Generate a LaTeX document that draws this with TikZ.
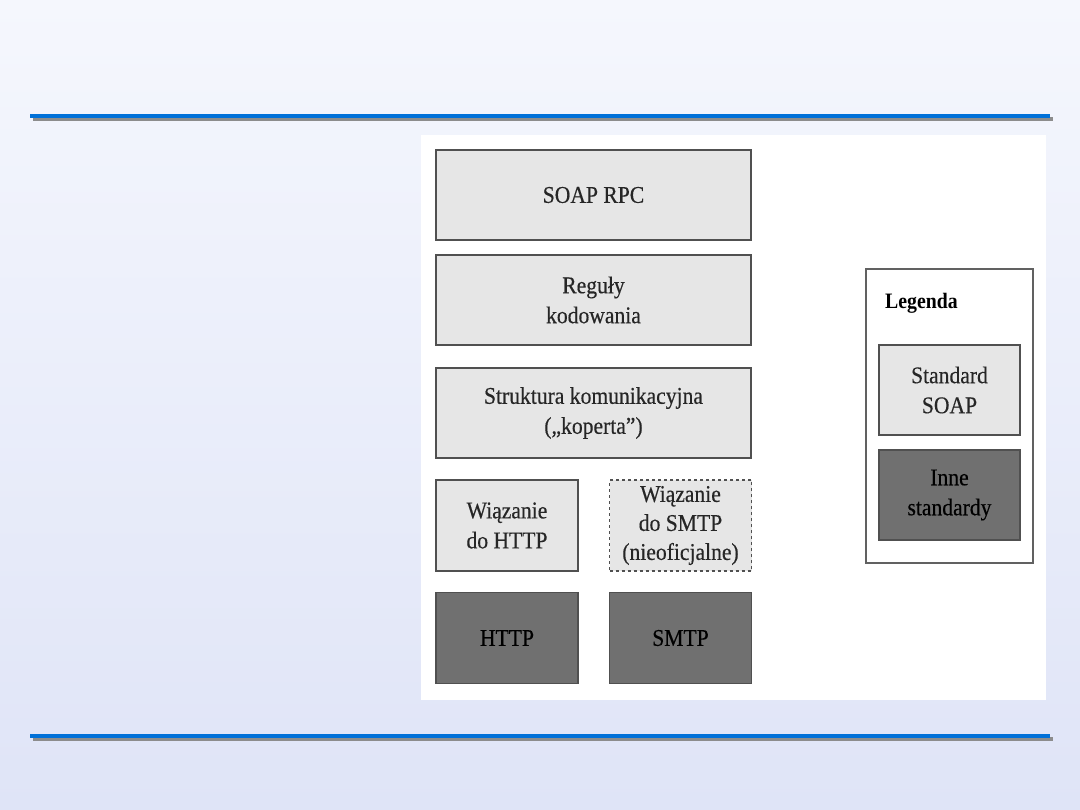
\documentclass[tikz,border=0pt]{standalone}
\usepackage{fontspec}
\newfontfamily\cond[FakeStretch=0.9,FakeBold=0.4]{Liberation Serif}
\newfontfamily\condb[FakeStretch=0.9]{Liberation Serif}
\definecolor{bgtop}{HTML}{F5F7FD}
\definecolor{bgbot}{HTML}{DFE4F7}
\definecolor{rule}{HTML}{0070D8}
\definecolor{ruleshadow}{HTML}{8C8C8C}
\definecolor{lightfill}{HTML}{E6E6E6}
\definecolor{darkfill}{HTML}{707070}
\definecolor{edge}{HTML}{505050}
\tikzset{
  layer/.style={draw=edge, line width=1.8pt, inner sep=2pt, align=center,
    font=\cond\fontsize{24}{30}\selectfont, text=black!85},
  soapbox/.style={layer, fill=lightfill},
  otherbox/.style={layer, fill=darkfill, text=black},
  wide/.style={minimum width=315pt, minimum height=90pt},
  narrow/.style={minimum width=142pt, minimum height=91pt},
  legbox/.style={minimum width=141pt, minimum height=90pt},
}
\begin{document}
\begin{tikzpicture}[x=1pt,y=-1pt]
\useasboundingbox (0,0) rectangle (1080,810);
\shade[top color=bgtop, bottom color=bgbot] (0,0) rectangle (1080,810);
% rules
\fill[ruleshadow] (33,117) rectangle (1053,121);
\fill[rule] (30,114) rectangle (1050,118);
\fill[ruleshadow] (33,737) rectangle (1053,741);
\fill[rule] (30,734) rectangle (1050,738);
% image area
\fill[white] (421,135) rectangle (1046,700);
% stack
\node[soapbox, wide] (rpc) at (593.5,195) {SOAP RPC};
\node[soapbox, wide] (enc) at (593.5,300) {Reguły\\kodowania};
\node[soapbox, wide] (env) at (593.5,413) {Struktura komunikacyjna\\(„koperta”)};
\node[soapbox, narrow] (bhttp) at (507,525.5) {Wiązanie\\do HTTP};
\node[soapbox, narrow, dash pattern=on 3pt off 3pt, line width=1.4pt, font=\cond\fontsize{24}{29}\selectfont] (bsmtp) at (680.5,525.5) {Wiązanie\\do SMTP\\(nieoficjalne)};
\node[otherbox, narrow] (http) at (507,638) {HTTP};
\node[otherbox, narrow] (smtp) at (680.5,638) {SMTP};
% legend
\node[draw=edge!90, line width=1.2pt, fill=white, minimum width=167pt, minimum height=294pt] (leg) at (949.5,416) {};
\node[anchor=west, font=\condb\bfseries\fontsize{22}{26}\selectfont, inner sep=0pt] (legt) at (885,303) {Legenda};
\node[soapbox, legbox] (lstd) at (949.5,390) {Standard\\SOAP};
\node[otherbox, legbox] (loth) at (949.5,495) {Inne\\standardy};
\end{tikzpicture}
\end{document}
